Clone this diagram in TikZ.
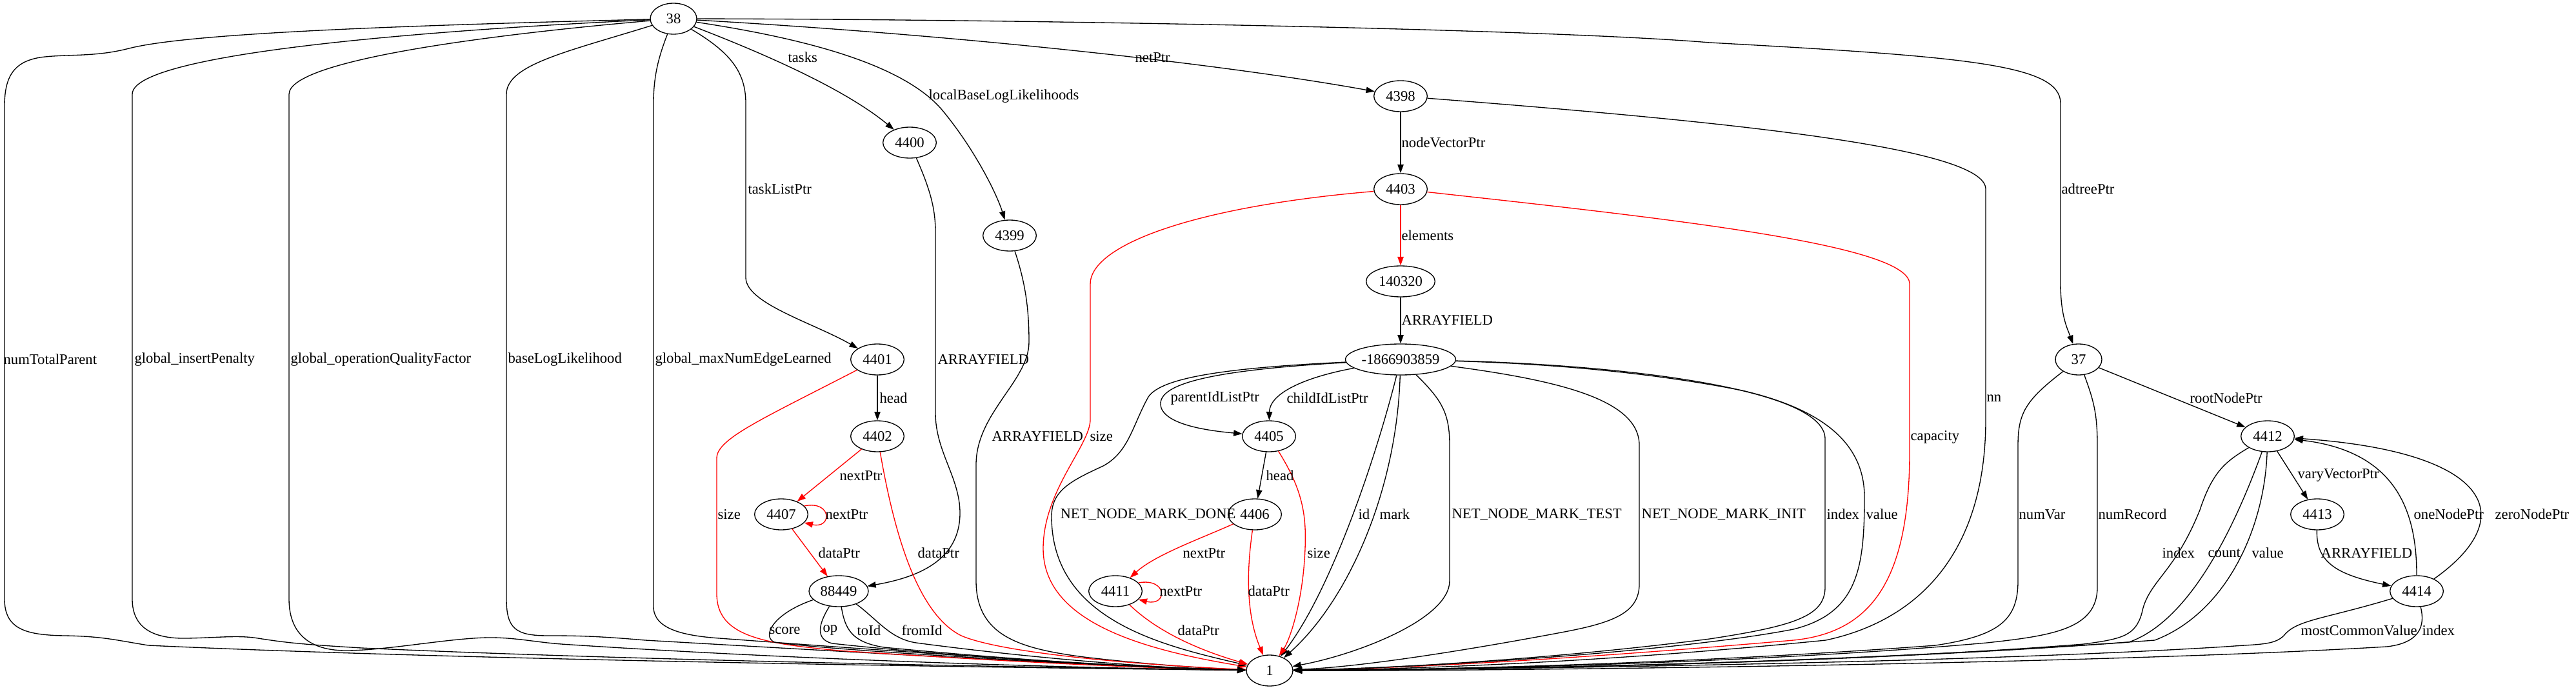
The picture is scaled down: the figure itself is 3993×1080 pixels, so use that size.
\documentclass[tikz,border=0pt]{standalone}
\usepackage{fontspec}
\setmainfont{Liberation Serif}
\usepackage{tikz}
\usetikzlibrary{arrows.meta, shapes.geometric}

\tikzset{
  obj/.style={ellipse, draw, line width=1pt, inner sep=0pt, minimum width=62pt, minimum height=36pt, font=\fontsize{17}{20}\selectfont},
  lbl/.style={anchor=west, inner sep=1pt, font=\fontsize{17}{20}\selectfont},
  ptr/.style={-{Triangle[length=10pt, width=7pt]}, line width=1pt},
  redptr/.style={ptr, red},
}

\begin{document}
\begin{tikzpicture}[x=0.75pt, y=-0.75pt]
  \useasboundingbox (0,0) rectangle (3993,1080);

  % Objects
  \node[obj, minimum width=54pt] (n38) at (1044,29) {38};
  \node[obj] (n4398) at (2171,149) {4398};
  \node[obj] (n4400) at (1410,221) {4400};
  \node[obj] (n4403) at (2171,293) {4403};
  \node[obj] (n4399) at (1565,365) {4399};
  \node[obj, minimum width=80pt] (n140320) at (2171,436) {140320};
  \node[obj] (n4401) at (1360,557) {4401};
  \node[obj, minimum width=121pt] (nNeg) at (2171,557) {-1866903859};
  \node[obj, minimum width=54pt] (n37) at (3222,557) {37};
  \node[obj] (n4402) at (1360,676) {4402};
  \node[obj] (n4405) at (1967,676) {4405};
  \node[obj] (n4412) at (3515,676) {4412};
  \node[obj] (n4407) at (1211,797) {4407};
  \node[obj] (n4406) at (1945,797) {4406};
  \node[obj] (n4413) at (3592,797) {4413};
  \node[obj, minimum width=69pt] (n88449) at (1300,916) {88449};
  \node[obj] (n4411) at (1729,916) {4411};
  \node[obj] (n4414) at (3746,916) {4414};
  \node[obj, minimum width=54pt] (n1) at (1968,1039) {1};

  % Edges out of 38
  \draw[ptr] (n38) .. controls (600,40) and (290,52) .. (200,75)
    .. controls (150,88) and (110,84) .. (70,88)
    .. controls (20,93) and (7,120) .. (7,165) -- (7,928)
    .. controls (7,975) and (40,984) .. (100,985)
    .. controls (160,986) and (180,992) .. (230,1000)
    .. controls (700,1022) and (1500,1034) .. (n1);
  \draw[ptr] (n38) .. controls (700,45) and (205,80) .. (205,146) -- (205,928)
    .. controls (205,975) and (240,990) .. (290,989)
    .. controls (340,988) and (370,984) .. (400,989)
    .. controls (450,997) and (480,999) .. (560,1004)
    .. controls (1000,1024) and (1600,1034) .. (n1);
  \draw[ptr] (n38) .. controls (800,50) and (448,90) .. (448,146) -- (448,928)
    .. controls (448,990) and (490,1008) .. (536,1008)
    .. controls (600,1008) and (700,988) .. (760,988)
    .. controls (800,988) and (830,995) .. (870,998)
    .. controls (1200,1020) and (1600,1034) .. (n1);
  \draw[ptr] (n38) .. controls (880,80) and (785,100) .. (785,146) -- (785,928)
    .. controls (785,975) and (800,985) .. (850,985)
    .. controls (900,985) and (930,986) .. (1000,992)
    .. controls (1400,1015) and (1700,1032) .. (n1);
  \draw[ptr] (n38) .. controls (1020,90) and (1013,120) .. (1013,160) -- (1013,940)
    .. controls (1013,975) and (1060,985) .. (1115,989)
    .. controls (1400,1010) and (1700,1032) .. (n1);
  \draw[ptr] (n38) .. controls (1130,80) and (1156,110) .. (1156,160) -- (1156,430)
    .. controls (1156,470) and (1260,500) .. (n4401);
  \draw[ptr] (n38) .. controls (1150,70) and (1300,130) .. (n4400);
  \draw[ptr] (n38) .. controls (1250,60) and (1400,100) .. (1460,170)
    .. controls (1510,230) and (1545,300) .. (n4399);
  \draw[ptr] (n38) .. controls (1500,55) and (1900,100) .. (n4398);
  \draw[ptr] (n38) .. controls (1600,30) and (2400,45) .. (2650,66)
    .. controls (3050,88) and (3194,100) .. (3194,160) -- (3194,439)
    .. controls (3194,490) and (3205,510) .. (n37);

  % 4398 and 4403
  \draw[ptr] (n4398) -- (n4403);
  \draw[ptr] (n4398) .. controls (2700,190) and (3078,230) .. (3078,293) -- (3078,650)
    .. controls (3078,850) and (2980,960) .. (2830,992)
    .. controls (2500,1025) and (2200,1037) .. (n1);
  \draw[redptr] (n4403) -- (n140320);
  \draw[redptr] (n4403) .. controls (1850,320) and (1690,380) .. (1690,440) -- (1690,650)
    .. controls (1690,690) and (1617,760) .. (1617,850)
    .. controls (1617,960) and (1760,1005) .. (n1);
  \draw[redptr] (n4403) .. controls (2600,340) and (2960,380) .. (2960,440) -- (2960,700)
    .. controls (2960,900) and (2900,980) .. (2780,992)
    .. controls (2400,1025) and (2150,1036) .. (n1);
  \draw[ptr] (n140320) -- (nNeg);

  % 4400 and 4399
  \draw[ptr] (n4400) .. controls (1440,290) and (1450,320) .. (1450,360) -- (1450,640)
    .. controls (1450,700) and (1488,740) .. (1488,795)
    .. controls (1488,870) and (1420,895) .. (n88449);
  \draw[ptr] (n4399) .. controls (1590,440) and (1595,480) .. (1595,530)
    .. controls (1595,590) and (1513,640) .. (1513,720) -- (1513,900)
    .. controls (1513,985) and (1580,1005) .. (1680,1018)
    .. controls (1780,1030) and (1880,1036) .. (n1);

  % 4401, 4402, 4407
  \draw[ptr] (n4401) -- (n4402);
  \draw[redptr] (n4401) .. controls (1180,650) and (1111,680) .. (1111,710) -- (1111,920)
    .. controls (1111,985) and (1180,997) .. (1300,1008)
    .. controls (1600,1028) and (1800,1036) .. (n1);
  \draw[redptr] (n4402) -- (n4407);
  \draw[redptr] (n4402) .. controls (1385,820) and (1420,950) .. (1490,985)
    .. controls (1560,1015) and (1800,1032) .. (n1);
  \draw[redptr] (n4407.20) .. controls (1290,775) and (1290,820) .. (n4407.-20);
  \draw[redptr] (n4407) -- (n88449);

  % 88449
  \draw[ptr] (n88449) .. controls (1200,950) and (1180,985) .. (1200,995)
    .. controls (1300,1010) and (1800,1036) .. (n1);
  \draw[ptr] (n88449) .. controls (1270,965) and (1262,990) .. (1290,997)
    .. controls (1500,1020) and (1800,1036) .. (n1);
  \draw[ptr] (n88449) .. controls (1310,975) and (1320,995) .. (1370,1003)
    .. controls (1600,1025) and (1800,1036) .. (n1);
  \draw[ptr] (n88449) .. controls (1360,960) and (1380,990) .. (1420,996)
    .. controls (1600,1020) and (1800,1036) .. (n1);

  % -1866903859
  \draw[ptr] (nNeg) .. controls (1850,575) and (1790,600) .. (1800,632)
    .. controls (1810,660) and (1880,668) .. (n4405);
  \draw[ptr] (nNeg) .. controls (2020,585) and (1968,610) .. (n4405);
  \draw[ptr] (nNeg) .. controls (1900,570) and (1800,585) .. (1780,615)
    .. controls (1755,660) and (1750,700) .. (1710,722)
    .. controls (1660,745) and (1630,760) .. (1630,800)
    .. controls (1630,960) and (1800,1000) .. (n1);
  \draw[ptr] (nNeg) .. controls (2130,720) and (2060,920) .. (n1);
  \draw[ptr] (nNeg) .. controls (2165,760) and (2090,930) .. (n1);
  \draw[ptr] (nNeg) .. controls (2235,620) and (2247,640) .. (2247,690) -- (2247,900)
    .. controls (2247,960) and (2100,1015) .. (n1);
  \draw[ptr] (nNeg) .. controls (2420,590) and (2541,620) .. (2541,690) -- (2541,905)
    .. controls (2541,950) and (2500,965) .. (2420,980)
    .. controls (2250,1012) and (2100,1034) .. (n1);
  \draw[ptr] (nNeg) .. controls (2500,565) and (2829,600) .. (2829,680) -- (2829,910)
    .. controls (2829,955) and (2780,970) .. (2650,990)
    .. controls (2400,1022) and (2150,1036) .. (n1);
  \draw[ptr] (nNeg) .. controls (2450,565) and (2600,585) .. (2700,605)
    .. controls (2830,635) and (2890,690) .. (2890,770)
    .. controls (2890,880) and (2880,950) .. (2780,975)
    .. controls (2600,1010) and (2200,1035) .. (n1);

  % 4405, 4406, 4411
  \draw[ptr] (n4405) -- (n4406);
  \draw[redptr] (n4405) .. controls (2020,760) and (2025,800) .. (2023,850)
    .. controls (2020,930) and (2000,990) .. (n1);
  \draw[redptr] (n4406) .. controls (1860,835) and (1790,860) .. (n4411);
  \draw[redptr] (n4406) .. controls (1930,900) and (1935,960) .. (n1);
  \draw[redptr] (n4411.20) .. controls (1810,895) and (1810,940) .. (n4411.-20);
  \draw[redptr] (n4411) .. controls (1790,975) and (1850,1005) .. (n1);

  % 37
  \draw[ptr] (n37) .. controls (3140,620) and (3128,640) .. (3128,690) -- (3128,900)
    .. controls (3128,960) and (3100,985) .. (3000,1000)
    .. controls (2600,1030) and (2200,1038) .. (n1);
  \draw[ptr] (n37) .. controls (3245,620) and (3251,640) .. (3251,690) -- (3251,910)
    .. controls (3251,975) and (3180,985) .. (3080,996)
    .. controls (2700,1030) and (2200,1038) .. (n1);
  \draw[ptr] (n37) -- (n4412);

  % 4412, 4413, 4414
  \draw[ptr] (n4412) -- (n4413);
  \draw[ptr] (n4412) .. controls (3450,715) and (3430,730) .. (3410,790)
    .. controls (3370,890) and (3330,900) .. (3320,950)
    .. controls (3310,985) and (3290,990) .. (3230,998)
    .. controls (2800,1032) and (2200,1038) .. (n1);
  \draw[ptr] (n4412) .. controls (3470,800) and (3400,960) .. (3300,995)
    .. controls (2800,1032) and (2200,1038) .. (n1);
  \draw[ptr] (n4412) .. controls (3510,820) and (3450,950) .. (3340,992)
    .. controls (2800,1032) and (2200,1038) .. (n1);
  \draw[ptr] (n4413) .. controls (3590,870) and (3620,890) .. (n4414);
  \draw[ptr] (n4414) .. controls (3746,800) and (3720,700) .. (n4412);
  \draw[ptr] (n4414) .. controls (3910,800) and (3860,700) .. (n4412);
  \draw[ptr] (n4414) .. controls (3600,960) and (3560,960) .. (3540,985)
    .. controls (3525,1000) and (3500,998) .. (3450,1002)
    .. controls (3000,1030) and (2200,1038) .. (n1);
  \draw[ptr] (n4414) .. controls (3757,960) and (3760,995) .. (3700,1002)
    .. controls (3200,1032) and (2200,1040) .. (n1);

  % Labels
  \node[lbl] (lNumTotalParent) at (4,557) {numTotalParent};
  \node[lbl] (lInsertPenalty) at (207,557) {global\_insertPenalty};
  \node[lbl] (lOpQuality) at (449,557) {global\_operationQualityFactor};
  \node[lbl] (lBaseLL) at (786,557) {baseLogLikelihood};
  \node[lbl] (lMaxNumEdge) at (1014,557) {global\_maxNumEdgeLearned};
  \node[lbl] (lTaskList) at (1158,293) {taskListPtr};
  \node[lbl] (lTasks) at (1220,89) {tasks};
  \node[lbl] (lLocalBase) at (1438,149) {localBaseLogLikelihoods};
  \node[lbl] (lNetPtr) at (1758,89) {netPtr};
  \node[lbl] (lAdtree) at (3194,293) {adtreePtr};
  \node[lbl] (lNodeVector) at (2171,221) {nodeVectorPtr};
  \node[lbl] (lNn) at (3078,617) {nn};
  \node[lbl] (lElements) at (2171,365) {elements};
  \node[lbl] (lSize4403) at (1688,676) {size};
  \node[lbl] (lCapacity) at (2960,677) {capacity};
  \node[lbl] (lArray140320) at (2171,496) {ARRAYFIELD};
  \node[lbl] (lArray4400) at (1452,557) {ARRAYFIELD};
  \node[lbl] (lArray4399) at (1536,676) {ARRAYFIELD};
  \node[lbl] (lHead4401) at (1362,617) {head};
  \node[lbl] (lSize4401) at (1111,797) {size};
  \node[lbl] (lNext4402) at (1300,737) {nextPtr};
  \node[lbl] (lData4402) at (1421,857) {dataPtr};
  \node[lbl] (lNext4407) at (1278,797) {nextPtr};
  \node[lbl] (lData4407) at (1267,857) {dataPtr};
  \node[lbl] (lScore) at (1191,977) {score};
  \node[lbl] (lOp) at (1274,977) {op};
  \node[lbl] (lToId) at (1327,977) {toId};
  \node[lbl] (lFromId) at (1396,977) {fromId};
  \node[lbl] (lParentId) at (1813,617) {parentIdListPtr};
  \node[lbl] (lChildId) at (1993,617) {childIdListPtr};
  \node[lbl] (lMarkDone) at (1642,797) {NET\_NODE\_MARK\_DONE};
  \node[lbl] (lId) at (2104,797) {id};
  \node[lbl] (lMark) at (2137,797) {mark};
  \node[lbl] (lMarkTest) at (2249,797) {NET\_NODE\_MARK\_TEST};
  \node[lbl] (lMarkInit) at (2543,797) {NET\_NODE\_MARK\_INIT};
  \node[lbl] (lIndexNeg) at (2830,797) {index};
  \node[lbl] (lValueNeg) at (2891,797) {value};
  \node[lbl] (lHead4405) at (1961,737) {head};
  \node[lbl] (lSize4405) at (2025,857) {size};
  \node[lbl] (lNext4406) at (1832,857) {nextPtr};
  \node[lbl] (lData4406) at (1933,916) {dataPtr};
  \node[lbl] (lNext4411) at (1796,916) {nextPtr};
  \node[lbl] (lData4411) at (1824,977) {dataPtr};
  \node[lbl] (lNumVar) at (3128,797) {numVar};
  \node[lbl] (lNumRecord) at (3251,797) {numRecord};
  \node[lbl] (lRootNode) at (3393,617) {rootNodePtr};
  \node[lbl] (lVaryVector) at (3560,737) {varyVectorPtr};
  \node[lbl] (lIndex4412) at (3350,857) {index};
  \node[lbl] (lCount) at (3421,857) {count};
  \node[lbl] (lValue4412) at (3489,857) {value};
  \node[lbl] (lArray4413) at (3596,857) {ARRAYFIELD};
  \node[lbl] (lOneNode) at (3740,797) {oneNodePtr};
  \node[lbl] (lZeroNode) at (3866,797) {zeroNodePtr};
  \node[lbl] (lMostCommon) at (3565,977) {mostCommonValue};
  \node[lbl] (lIndex4414) at (3753,977) {index};
\end{tikzpicture}
\end{document}
